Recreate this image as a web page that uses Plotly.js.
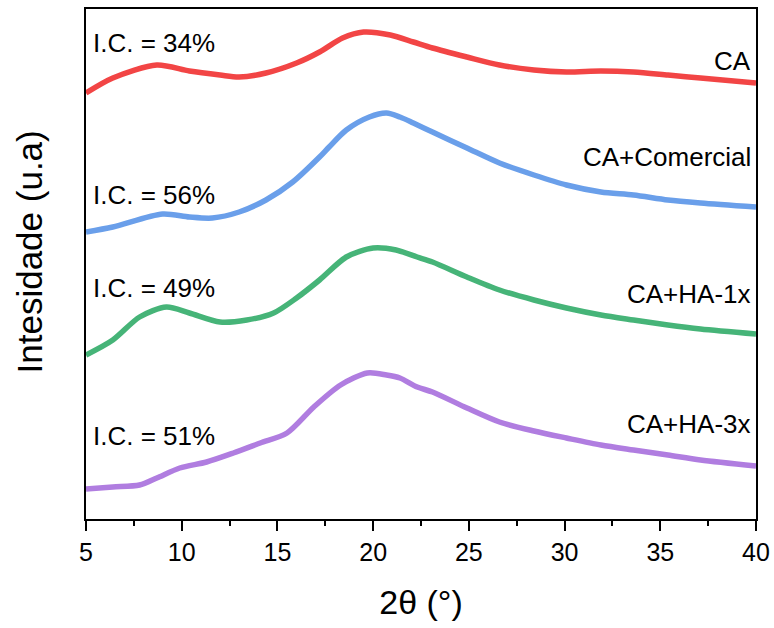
<!DOCTYPE html>
<html>
<head>
<meta charset="utf-8">
<script src="https://cdn.plot.ly/plotly-3.0.1.min.js"></script>
<style>html,body{margin:0;padding:0;background:#fff;}#chart{width:774px;height:628px;}</style>
</head>
<body>
<div id="chart"></div>
<script>
// 2θ positions and intensities (arbitrary units, curves offset vertically)
var ca_theta = [5, 6.4, 8.7, 10.4, 12, 13, 14.4, 16, 17.2, 18.4, 19.5, 20.9, 22.1, 23.1, 24.9, 26.6, 28.4, 30.1, 31.9, 33.6, 35.4, 37.1, 40];
var ca_int   = [426, 441, 454, 448, 444, 442, 446, 456, 467, 481, 487, 484, 477, 471, 462, 454, 449, 447, 448, 447, 444, 441, 436];

var com_theta = [5, 6.4, 9, 10.4, 11.6, 13, 14.4, 15.8, 17.2, 17.7, 18.6, 19.8, 20.7, 21.4, 22.1, 23.1, 24.9, 26.6, 28.4, 30.1, 31.9, 33.6, 35.4, 37.1, 40];
var com_int   = [287, 292, 305, 302, 301, 307, 319, 337, 362, 372, 389, 402, 406, 402, 396, 387, 371, 356, 344, 334, 327, 324, 319, 316, 312];

var ha1_theta = [5, 6.4, 7.8, 9.2, 10.4, 12, 13.4, 14.8, 16, 17.2, 18.6, 20, 21.2, 22.3, 23.1, 24.9, 26.6, 28.4, 30.1, 31.9, 33.6, 35.4, 37.1, 40];
var ha1_int   = [164, 179, 202, 212, 206, 197, 199, 206, 221, 239, 262, 271, 269, 262, 257, 242, 229, 219, 211, 204, 199, 194, 190, 185];

var ha3_theta = [5, 6.4, 7.8, 8.7, 9.9, 11.3, 12.7, 14.1, 15.5, 16.9, 18.3, 19.7, 20.7, 21.4, 22.3, 23.1, 24.9, 26.6, 28.4, 30.1, 31.9, 33.6, 35.4, 37.1, 40];
var ha3_int   = [30, 32, 34, 41, 51, 57, 66, 76, 86, 112, 134, 146, 144, 141, 132, 127, 111, 97, 88, 81, 74, 69, 64, 59, 53];

var seriesNames = ["CA", "CA+Comercial", "CA+HA-1x", "CA+HA-3x"];
var icLabels = ["I.C. = 34%", "I.C. = 56%", "I.C. = 49%", "I.C. = 51%"];
var xTicks = [5, 10, 15, 20, 25, 30, 35, 40];

var colors = ["#F24545", "#6A9FEA", "#46B478", "#B07DE0"];
var xs = [ca_theta, com_theta, ha1_theta, ha3_theta];
var ys = [ca_int, com_int, ha1_int, ha3_int];

var traces = xs.map(function (x, i) {
  return {
    x: x, y: ys[i], type: "scatter", mode: "lines", name: seriesNames[i],
    line: {color: colors[i], width: 5.5, shape: "spline", smoothing: 0.8},
    hoverinfo: "skip"
  };
});

var FONT = "Liberation Sans, Arial, sans-serif";
var icPos = [476, 324, 231, 83];
var namePos = [458, 362, 225, 95];
var annotations = [];
for (var i = 0; i < 4; i++) {
  annotations.push({x: 5.25, y: icPos[i], xref: "x", yref: "y", text: icLabels[i], showarrow: false,
    xanchor: "left", yanchor: "middle", font: {size: 26, color: "#000", family: FONT}});
  annotations.push({x: 39.85, y: namePos[i], xref: "x", yref: "y", text: seriesNames[i], showarrow: false,
    xanchor: "right", yanchor: "middle", font: {size: 26, color: "#000", family: FONT}});
}
// y-axis title
annotations.push({x: -0.084, y: 0.524, xref: "paper", yref: "paper", text: "Intesidade (u.a)", textangle: -90,
  showarrow: false, xanchor: "center", yanchor: "middle", font: {size: 35, color: "#000", family: FONT}});

var layout = {
  width: 774, height: 628,
  margin: {l: 86, r: 18, t: 9, b: 109},
  paper_bgcolor: "#fff", plot_bgcolor: "#fff",
  showlegend: false,
  font: {family: FONT, color: "#000"},
  xaxis: {
    range: [5, 40], tickvals: xTicks, ticktext: xTicks.map(String),
    showline: true, linecolor: "#000", linewidth: 2, mirror: true,
    ticks: "outside", ticklen: 10, tickwidth: 2, tickcolor: "#000",
    minor: {dtick: 2.5, tick0: 5, ticks: "outside", ticklen: 5, tickwidth: 2, tickcolor: "#000"},
    showgrid: false, zeroline: false,
    tickfont: {size: 25, color: "#000"},
    title: {text: "2θ (°)", font: {size: 34, color: "#000"}, standoff: 25}
  },
  yaxis: {
    range: [0, 510], showticklabels: false, ticks: "",
    showline: true, linecolor: "#000", linewidth: 2, mirror: true,
    showgrid: false, zeroline: false
  },
  annotations: annotations
};

Plotly.newPlot("chart", traces, layout, {displayModeBar: false, staticPlot: true});
</script>
</body>
</html>
